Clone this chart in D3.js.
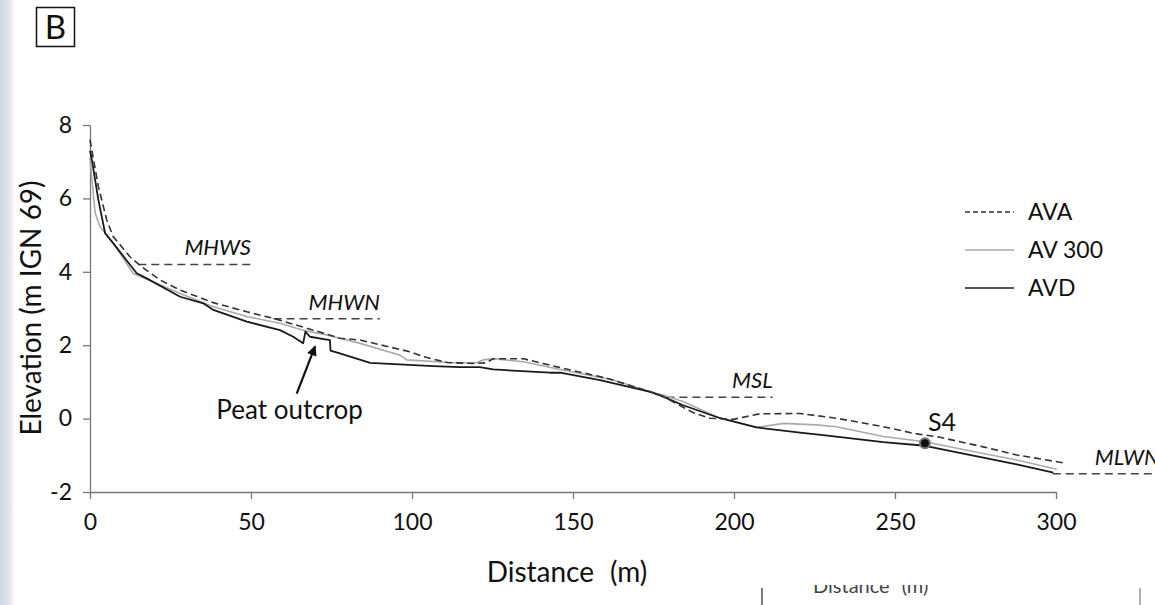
<!DOCTYPE html>
<html>
<head>
<meta charset="utf-8">
<script src="https://cdn.jsdelivr.net/npm/d3@7"></script>
<style>
  html, body { margin: 0; padding: 0; background: #fff; }
  svg { display: block; font-family: Lato, "Open Sans", sans-serif; }
</style>
</head>
<body>
<svg id="chart" width="1155" height="605"></svg>
<script>
// Beach cross-shore profiles (distance in m, elevation in m IGN 69)
const avaProfile = [
  [0, 7.6], [2.6, 6.32], [5.2, 5.41], [7.2, 4.96], [12.4, 4.41], [16, 4.14],
  [21.7, 3.78], [28, 3.5], [38.3, 3.16], [48.7, 2.91], [57, 2.73], [69.4, 2.41],
  [77.6, 2.19], [83.9, 2.14], [99.4, 1.82], [103.5, 1.69], [110.8, 1.53],
  [119, 1.5], [123, 1.52], [125.2, 1.63], [134.6, 1.63], [145, 1.41],
  [160.5, 1.1], [174, 0.73], [178, 0.6], [187.4, 0.16], [192.5, 0.01],
  [199.8, -0.02], [208, 0.13], [220.5, 0.14], [231.8, 0.01], [246.4, -0.22],
  [255.7, -0.4], [264, -0.51], [277.4, -0.77], [287.8, -0.99], [303.3, -1.22]
];
const av300Profile = [
  [0, 7.1], [1.6, 5.6], [3.1, 5.23], [7.2, 4.78], [13.4, 3.96], [28, 3.41],
  [38.3, 3.05], [48.7, 2.78], [59, 2.6], [66.2, 2.41], [73.5, 2.28],
  [83.9, 2.05], [96.3, 1.73], [98.4, 1.6], [112.8, 1.52], [120, 1.52],
  [122.2, 1.6], [125.2, 1.63], [134.6, 1.55], [146, 1.34], [162.5, 1.05],
  [174, 0.73], [178, 0.64], [184.3, 0.46], [194.6, 0.05], [207, -0.24],
  [215.3, -0.13], [225.6, -0.17], [231.8, -0.22], [246.4, -0.49],
  [259.3, -0.63], [277.4, -0.95], [287.8, -1.13], [300.2, -1.38]
];
const avdProfile = [
  [0, 7.3], [0.5, 7.1], [2.6, 5.96], [4.7, 5.05], [7.2, 4.78], [14.5, 3.96],
  [17.6, 3.82], [28, 3.32], [35.2, 3.14], [38.3, 2.96], [48.7, 2.64],
  [59, 2.41], [63.1, 2.23], [66.2, 2.05], [66.9, 2.37], [68.3, 2.23],
  [74.5, 2.14], [74.7, 1.85], [77.6, 1.78], [87, 1.52], [106.6, 1.43],
  [114.9, 1.4], [121, 1.4], [125.2, 1.34], [142.9, 1.25], [146, 1.25],
  [158.4, 1.05], [174, 0.73], [178, 0.6], [184, 0.37], [195.7, 0.01],
  [207, -0.24], [220.5, -0.38], [227.7, -0.45], [246.4, -0.64],
  [259.3, -0.74], [280.5, -1.12], [287.8, -1.25], [299.2, -1.47]
];

// Tidal reference levels
const tidalNames = ["MHWS", "MHWN", "MSL", "MLWN"];
const tidalElev = [4.2, 2.72, 0.58, -1.5];
const tidalFrom = [15, 57, 179, 299];
const tidalTo = [50, 90, 212, 332];

// Sample S4 and peat outcrop annotation
const sampleName = "S4";
const samplePoint = [259.3, -0.67];
const peatLabel = "Peat outcrop";
const peatArrowFrom = [64.2, 0.68];
const peatArrowTo = [69.9, 1.97];

// Axes
const xTicks = [0, 50, 100, 150, 200, 250, 300];
const yTicks = [-2, 0, 2, 4, 6, 8];
const seriesNames = ["AVA", "AV 300", "AVD"];

const svg = d3.select("#chart");

const defs = svg.append("defs");
const grad = defs.append("linearGradient").attr("id", "edge").attr("x1", 0).attr("x2", 1);
grad.append("stop").attr("offset", 0).attr("stop-color", "#cfd7e4");
grad.append("stop").attr("offset", 0.65).attr("stop-color", "#e2e7ef");
grad.append("stop").attr("offset", 1).attr("stop-color", "#ffffff");
defs.append("clipPath").attr("id", "stubClip")
  .append("rect").attr("x", 700).attr("y", 585).attr("width", 455).attr("height", 20);
defs.append("marker").attr("id", "arrowHead")
  .attr("viewBox", "0 0 10 10").attr("refX", 9).attr("refY", 5)
  .attr("markerWidth", 11).attr("markerHeight", 10).attr("markerUnits", "userSpaceOnUse")
  .attr("orient", "auto")
  .append("path").attr("d", "M0,0 L10,5 L0,10 Z").attr("fill", "#111");

// faint band on the left edge
svg.append("rect").attr("x", 0).attr("y", 0).attr("width", 15).attr("height", 605)
  .attr("fill", "url(#edge)");

// panel letter
svg.append("rect").attr("x", 36.5).attr("y", 7.5).attr("width", 38).attr("height", 39)
  .attr("fill", "none").attr("stroke", "#111").attr("stroke-width", 1.5);
svg.append("text").attr("x", 55.5).attr("y", 39).attr("text-anchor", "middle")
  .attr("font-size", 33).attr("fill", "#111").text("B");

const x = d3.scaleLinear().domain([0, 300]).range([90, 1056]);
const y = d3.scaleLinear().domain([-2, 8]).range([492, 125]);

// axes
const gx = svg.append("g").attr("transform", `translate(0,${y(-2)})`)
  .call(d3.axisBottom(x).tickValues(xTicks).tickFormat(d => String(d))
    .tickSizeInner(7).tickSizeOuter(0).tickPadding(15));
const gy = svg.append("g").attr("transform", `translate(${x(0)},0)`)
  .call(d3.axisLeft(y).tickValues(yTicks).tickFormat(d => String(d))
    .tickSizeInner(7).tickSizeOuter(0).tickPadding(11));
[gx, gy].forEach(g => {
  g.select(".domain").attr("stroke", "#777").attr("stroke-width", 1.3);
  g.selectAll(".tick line").attr("stroke", "#777").attr("stroke-width", 1.3);
  g.selectAll(".tick text").attr("font-size", 23).attr("fill", "#111")
    .attr("font-family", "Lato, sans-serif");
});

const xTitle = svg.append("text").attr("x", 567).attr("y", 582).attr("text-anchor", "middle")
  .attr("font-size", 28).attr("fill", "#111");
xTitle.append("tspan").text("Distance");
xTitle.append("tspan").attr("dx", 16).text("(m)");
svg.append("text").attr("transform", `translate(41,308) rotate(-90)`)
  .attr("text-anchor", "middle").attr("font-size", 28).attr("fill", "#111")
  .text("Elevation (m IGN 69)");

// tidal levels
const tides = tidalNames.map((n, i) => ({ name: n, v: tidalElev[i], a: tidalFrom[i], b: tidalTo[i] }));
svg.append("g").selectAll("line").data(tides).join("line")
  .attr("x1", d => x(d.a)).attr("x2", d => x(d.b))
  .attr("y1", d => y(d.v)).attr("y2", d => y(d.v))
  .attr("stroke", "#444").attr("stroke-width", 1.5).attr("stroke-dasharray", "8,5");
svg.append("g").selectAll("text").data(tides).join("text")
  .attr("x", d => d.name === "MLWN" ? x(d.a) + 42 : x(d.b))
  .attr("text-anchor", d => d.name === "MLWN" ? "start" : "end")
  .attr("y", d => y(d.v) - 9)
  .attr("font-size", 22).attr("font-style", "italic").attr("fill", "#111")
  .text(d => d.name);

// profiles
const line = d3.line().x(d => x(d[0])).y(d => y(d[1]));
svg.append("path").datum(av300Profile).attr("d", line)
  .attr("fill", "none").attr("stroke", "#aaa").attr("stroke-width", 1.6);
svg.append("path").datum(avdProfile).attr("d", line)
  .attr("fill", "none").attr("stroke", "#1a1a1a").attr("stroke-width", 1.8)
  .attr("stroke-linejoin", "round");
svg.append("path").datum(avaProfile).attr("d", line)
  .attr("fill", "none").attr("stroke", "#333").attr("stroke-width", 1.6)
  .attr("stroke-dasharray", "7,4");

// legend
const legendStyles = [
  { stroke: "#333", dash: "5,3", w: 1.5 },
  { stroke: "#aaa", dash: null, w: 1.6 },
  { stroke: "#1a1a1a", dash: null, w: 1.6 }
];
const lg = svg.append("g").selectAll("g").data(seriesNames).join("g")
  .attr("transform", (d, i) => `translate(965,${212 + i * 38})`);
lg.append("line").attr("x1", 0).attr("x2", 49).attr("y1", 0).attr("y2", 0)
  .attr("stroke", (d, i) => legendStyles[i].stroke)
  .attr("stroke-width", (d, i) => legendStyles[i].w)
  .attr("stroke-dasharray", (d, i) => legendStyles[i].dash);
lg.append("text").attr("x", 63).attr("y", 8).attr("font-size", 23).attr("fill", "#111")
  .text(d => d);

// sample S4
svg.append("circle").attr("cx", x(samplePoint[0])).attr("cy", y(samplePoint[1])).attr("r", 5)
  .attr("fill", "#111").attr("stroke", "#777").attr("stroke-width", 2);
svg.append("text").attr("x", x(samplePoint[0]) + 3).attr("y", y(samplePoint[1]) - 12)
  .attr("font-size", 25).attr("fill", "#111").text(sampleName);

// peat outcrop annotation
svg.append("line")
  .attr("x1", x(peatArrowFrom[0])).attr("y1", y(peatArrowFrom[1]))
  .attr("x2", x(peatArrowTo[0])).attr("y2", y(peatArrowTo[1]))
  .attr("stroke", "#111").attr("stroke-width", 2.2).attr("marker-end", "url(#arrowHead)");
svg.append("text").attr("x", x(62)).attr("y", y(0)).attr("text-anchor", "middle")
  .attr("font-size", 26).attr("fill", "#111").text(peatLabel);

// fragment of a neighbouring panel below
const stub = svg.append("g").attr("clip-path", "url(#stubClip)");
const stubText = stub.append("text").attr("x", 813).attr("y", 593).attr("font-size", 20)
  .attr("fill", "#444");
stubText.append("tspan").text("Distance");
stubText.append("tspan").attr("dx", 12).text("(m)");
svg.append("line").attr("x1", 762).attr("x2", 762).attr("y1", 588).attr("y2", 605)
  .attr("stroke", "#333").attr("stroke-width", 1.3);
svg.append("line").attr("x1", 1140).attr("x2", 1140).attr("y1", 588).attr("y2", 605)
  .attr("stroke", "#999").attr("stroke-width", 1.5);
</script>
</body>
</html>
